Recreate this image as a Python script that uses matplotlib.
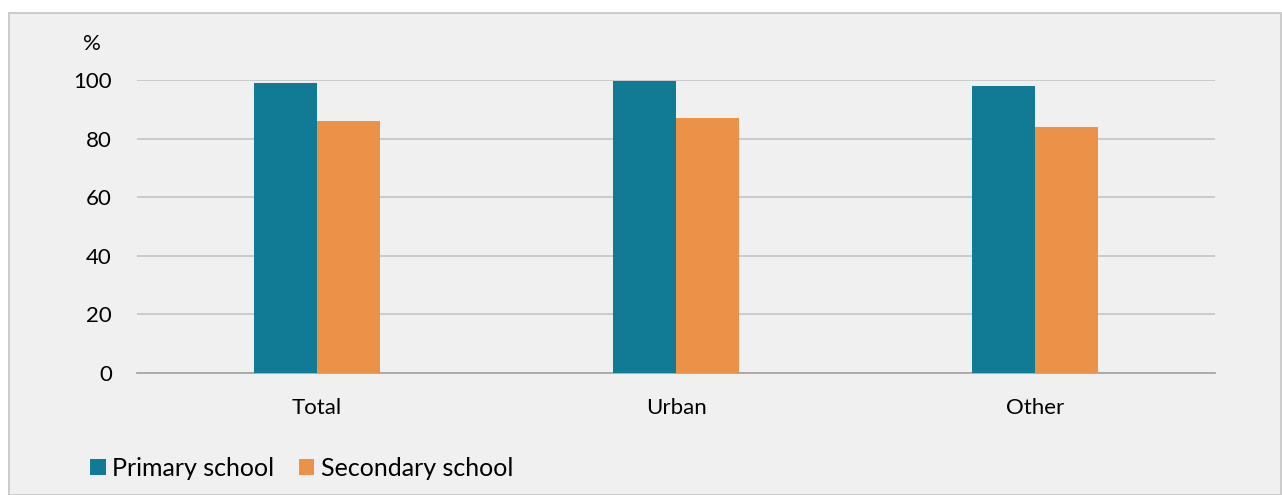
import matplotlib.pyplot as plt
import numpy as np
from matplotlib.patches import Rectangle

categories = ['Total', 'Urban', 'Other']
primary = [99.1, 99.7, 98.1]
secondary = [86.0, 87.2, 84.1]

plt.rcParams['font.family'] = ['Lato', 'DejaVu Sans']

fig = plt.figure(figsize=(12.82, 4.95), dpi=100)
fig.patch.set_facecolor('white')
fig.patches.append(Rectangle((9 / 1282, 0), 1272 / 1282, 482 / 495, transform=fig.transFigure,
                             facecolor='#f0f0f0', edgecolor='#c4c4c4', linewidth=1.2, zorder=-10))

ax = fig.add_axes([137 / 1282, 122 / 495, 1078 / 1282, 293 / 495])
ax.set_facecolor('none')

x = np.arange(len(categories))
w = 0.175
ax.bar(x - w / 2, primary, w, color='#117b96', label='Primary school', zorder=3)
ax.bar(x + w / 2, secondary, w, color='#ec9148', label='Secondary school', zorder=3)

ax.set_xlim(-0.5, 2.5)
ax.set_ylim(0, 100)
ax.set_yticks(range(0, 101, 20))
ax.grid(axis='y', color='#c8c8c8', linewidth=1.3, zorder=0)
for s in ['top', 'right', 'left']:
    ax.spines[s].set_visible(False)
ax.spines['bottom'].set_color('#a6a6a6')
ax.spines['bottom'].set_linewidth(1.3)
ax.tick_params(axis='both', length=0, labelsize=16, colors='black')
ax.tick_params(axis='y', pad=18)
ax.tick_params(axis='x', pad=18)
ax.set_xticks(x)
ax.set_xticklabels(categories)

fig.text(92 / 1282, 1 - 44 / 495, '%', fontsize=16, ha='center', va='center')

ax.legend(loc='center left', bbox_to_anchor=(90 / 1282, 1 - 468 / 495), bbox_transform=fig.transFigure,
          ncol=2, frameon=False, fontsize=18, handlelength=0.62, handleheight=0.62, borderpad=0,
          borderaxespad=0, handletextpad=0.25, columnspacing=1.0)

fig.savefig('out.png', dpi=100)
